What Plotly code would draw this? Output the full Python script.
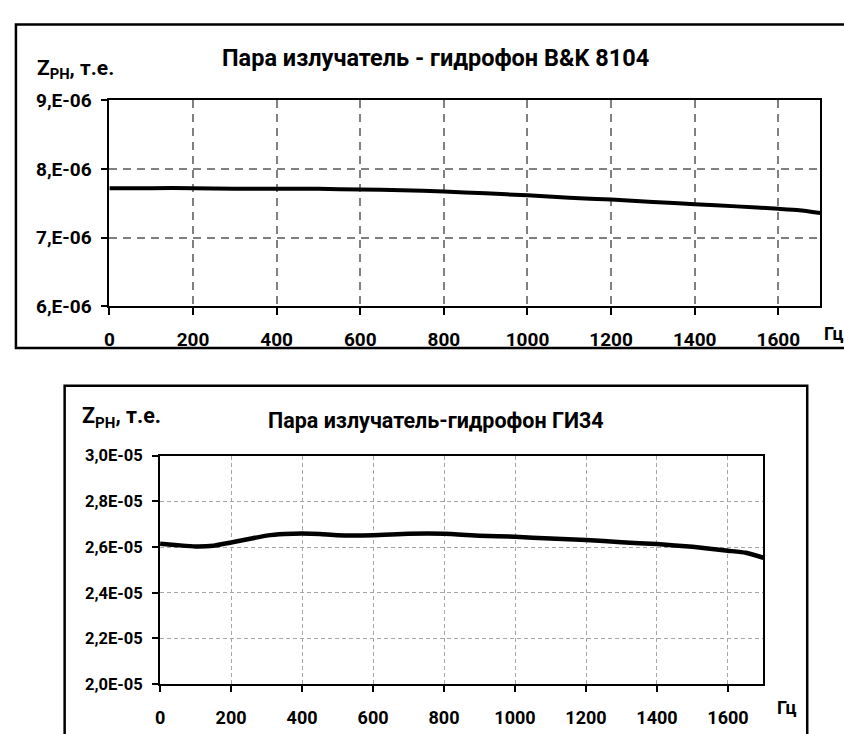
import plotly.graph_objects as go

# ---------------- data ----------------
freq_top = [0, 100, 200, 300, 400, 500, 600, 700, 800, 900, 1000, 1100, 1200, 1300, 1400, 1500, 1600, 1650, 1700]
z_top = [7.72e-6, 7.72e-6, 7.72e-6, 7.71e-6, 7.71e-6, 7.71e-6, 7.70e-6, 7.69e-6, 7.67e-6, 7.645e-6,
         7.615e-6, 7.58e-6, 7.555e-6, 7.52e-6, 7.485e-6, 7.455e-6, 7.42e-6, 7.40e-6, 7.36e-6]

freq_bot = [0, 50, 100, 150, 200, 250, 300, 350, 400, 450, 500, 600, 700, 800, 900, 1000, 1100, 1200,
            1300, 1400, 1500, 1600, 1650, 1700]
z_bot = [2.614e-5, 2.608e-5, 2.603e-5, 2.606e-5, 2.620e-5, 2.635e-5, 2.650e-5, 2.657e-5, 2.659e-5,
         2.657e-5, 2.652e-5, 2.652e-5, 2.658e-5, 2.658e-5, 2.650e-5, 2.645e-5, 2.637e-5, 2.631e-5,
         2.621e-5, 2.613e-5, 2.601e-5, 2.584e-5, 2.575e-5, 2.553e-5]

x_ticks = [0, 200, 400, 600, 800, 1000, 1200, 1400, 1600]
x_tick_labels = ["0", "200", "400", "600", "800", "1000", "1200", "1400", "1600"]

y_ticks_top = [6e-6, 7e-6, 8e-6, 9e-6]
y_tick_labels_top = ["6,E-06", "7,E-06", "8,E-06", "9,E-06"]

y_ticks_bot = [2.0e-5, 2.2e-5, 2.4e-5, 2.6e-5, 2.8e-5, 3.0e-5]
y_tick_labels_bot = ["2,0E-05", "2,2E-05", "2,4E-05", "2,6E-05", "2,8E-05", "3,0E-05"]

title_top = "Пара излучатель - гидрофон B&K 8104"
title_bot = "Пара излучатель-гидрофон ГИ34"
y_label = "Z<sub>PH</sub>, т.е."
x_unit = "Гц"

# ---------------- layout helpers ----------------
W, H = 844, 734
def px(x):
    return x / W
def py(y):
    return 1 - y / H

FONT = "Roboto"

fig = go.Figure()
fig.add_trace(go.Scatter(x=freq_top, y=z_top, mode="lines", xaxis="x", yaxis="y",
                         line=dict(color="black", width=4, shape="spline", smoothing=0.5),
                         showlegend=False, hoverinfo="x+y"))
fig.add_trace(go.Scatter(x=freq_bot, y=z_bot, mode="lines", xaxis="x2", yaxis="y2",
                         line=dict(color="black", width=4.5, shape="spline", smoothing=0.5),
                         showlegend=False, hoverinfo="x+y"))

axis_common = dict(showline=True, linecolor="black", mirror=True, ticks="outside",
                   tickcolor="black", zeroline=False, showgrid=True)

fig.update_layout(
    width=W, height=H, autosize=False,
    margin=dict(l=0, r=0, t=0, b=0),
    paper_bgcolor="white", plot_bgcolor="white",
    font=dict(family=FONT, color="black"),
    xaxis=dict(domain=[px(105), px(820)], anchor="y", range=[0, 1700],
               tickvals=x_ticks, ticktext=x_tick_labels, linewidth=2, ticklen=7, tickwidth=2,
               gridcolor="#808080", griddash="8px,6px", gridwidth=1.5,
               ticklabelstandoff=8,
               tickfont=dict(family=FONT, size=19, weight="bold", color="black"), **axis_common),
    yaxis=dict(domain=[py(305), py(92)], anchor="x", range=[6e-6, 9e-6],
               tickvals=y_ticks_top, ticktext=y_tick_labels_top, linewidth=2, ticklen=6, tickwidth=2,
               gridcolor="#808080", griddash="8px,6px", gridwidth=1.5,
               ticklabelstandoff=6,
               tickfont=dict(family=FONT, size=19, weight="bold", color="black"), **axis_common),
    xaxis2=dict(domain=[px(156), px(763)], anchor="y2", range=[0, 1700],
                tickvals=x_ticks, ticktext=x_tick_labels, linewidth=2, ticklen=6, tickwidth=1.5,
                gridcolor="#a6a6a6", griddash="4px,3px", gridwidth=1,
                ticklabelstandoff=10,
                tickfont=dict(family=FONT, size=18, weight="bold", color="black"), **axis_common),
    yaxis2=dict(domain=[py(695), py(459)], anchor="x2", range=[2.0e-5, 3.0e-5],
                tickvals=y_ticks_bot, ticktext=y_tick_labels_bot, linewidth=2, ticklen=6, tickwidth=1.5,
                gridcolor="#a6a6a6", griddash="4px,3px", gridwidth=1,
                ticklabelstandoff=6,
                tickfont=dict(family=FONT, size=16.5, weight="bold", color="black"), **axis_common),
    shapes=[
        dict(type="rect", xref="paper", yref="paper", x0=px(11), x1=px(870), y0=py(348), y1=py(14),
             line=dict(color="black", width=2.5), fillcolor="rgba(0,0,0,0)", layer="below"),
        dict(type="rect", xref="paper", yref="paper", x0=px(60), x1=px(807), y0=py(780), y1=py(387),
             line=dict(color="black", width=2.5), fillcolor="rgba(0,0,0,0)", layer="below"),
    ],
    annotations=[
        dict(text=title_top, xref="paper", yref="paper", x=px(433), y=py(49), showarrow=False,
             xanchor="center", yanchor="middle", font=dict(family=FONT, size=23.5, weight="bold")),
        dict(text=y_label, xref="paper", yref="paper", x=px(30), y=py(60), showarrow=False,
             xanchor="left", yanchor="middle", font=dict(family=FONT, size=21, weight="bold")),
        dict(text=x_unit, xref="paper", yref="paper", x=px(822), y=py(333), showarrow=False,
             xanchor="left", yanchor="middle", font=dict(family=FONT, size=18, weight="bold")),
        dict(text=title_bot, xref="paper", yref="paper", x=px(434), y=py(423), showarrow=False,
             xanchor="center", yanchor="middle", font=dict(family=FONT, size=21.5, weight="bold")),
        dict(text=y_label, xref="paper", yref="paper", x=px(75), y=py(420), showarrow=False,
             xanchor="left", yanchor="middle", font=dict(family=FONT, size=21.5, weight="bold")),
        dict(text=x_unit, xref="paper", yref="paper", x=px(775), y=py(719), showarrow=False,
             xanchor="left", yanchor="middle", font=dict(family=FONT, size=18, weight="bold")),
    ],
)

fig.write_html("out.html")
